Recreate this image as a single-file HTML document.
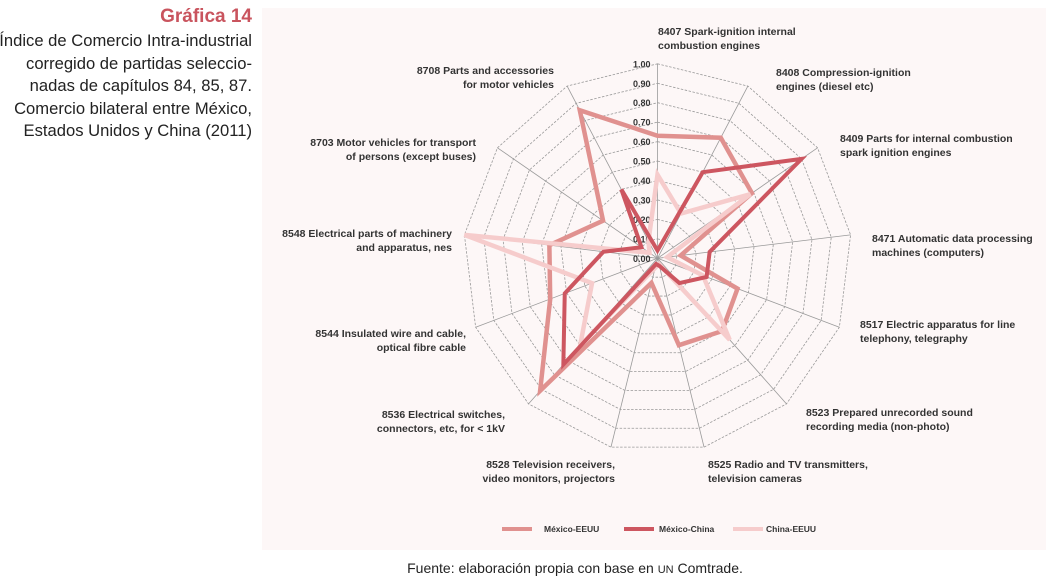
<!DOCTYPE html>
<html><head><meta charset="utf-8">
<style>
body{margin:0;width:1056px;height:580px;background:#fff;overflow:hidden;font-family:"Liberation Sans",sans-serif;position:relative}
#title{position:absolute;right:804px;top:4px;text-align:right;font-size:16.6px;line-height:22.5px;color:#222;white-space:nowrap}
#title b{color:#c9545e;font-size:19px;line-height:26px}
#panel{position:absolute;left:262px;top:8px;width:784px;height:542px;background:#fdf7f7}
#foot{position:absolute;left:0;width:1150px;top:560px;text-align:center;font-size:14px;color:#222}
svg text{font-family:"Liberation Sans",sans-serif;font-weight:bold;fill:#333}
</style></head><body>
<div id="title"><b>Gráfica 14</b><br>Índice de Comercio Intra-industrial<br>corregido de partidas seleccio-<br>nadas de capítulos 84, 85, 87.<br>Comercio bilateral entre México,<br>Estados Unidos y China (2011)</div>
<div id="panel"></div>
<svg id="chart" width="1056" height="580" style="position:absolute;left:0;top:0"></svg>
<div id="foot">Fuente: elaboración propia con base en <span style="font-size:11px">UN</span> Comtrade.</div>
<script>
const categories=["8407","8408","8409","8471","8517","8523","8525","8528","8536","8544","8548","8703","8708"];
const labelLines=[["8407 Spark-ignition internal","combustion engines"],["8408 Compression-ignition","engines (diesel etc)"],["8409 Parts for internal combustion","spark ignition engines"],["8471 Automatic data processing"," machines (computers)"],["8517 Electric apparatus for line","telephony, telegraphy"],["8523 Prepared unrecorded sound","recording media (non-photo)"],["8525 Radio and TV transmitters,"," television cameras"],["8528 Television receivers,","video monitors, projectors"],["8536 Electrical switches,","connectors, etc, for < 1kV"],["8544 Insulated wire and cable,","optical fibre cable"],["8548 Electrical parts of machinery","and apparatus, nes"],["8703 Motor vehicles for transport","of persons (except buses)"],["8708 Parts and accessories","for motor vehicles"]];
const mexEeuu=[0.63,0.70,0.59,0.12,0.44,0.50,0.46,0.13,0.91,0.59,0.56,0.34,0.86];
const mexChina=[0.04,0.50,0.90,0.27,0.27,0.17,0.04,0.03,0.73,0.51,0.28,0.10,0.40];
const chinaEeuu=[0.43,0.26,0.58,0.05,0.25,0.56,0.03,0.05,0.60,0.36,1.00,0.05,0.10];
const ticks=[0,0.1,0.2,0.3,0.4,0.5,0.6,0.7,0.8,0.9,1.0];
const cx=657.5,cy=258.3,R=194.5,N=categories.length;
const svg=document.getElementById('chart');const NS='http://www.w3.org/2000/svg';
function ang(i){return i*2*Math.PI/N;}
function pt(i,v){return [cx+R*v*Math.sin(ang(i)),cy-R*v*Math.cos(ang(i))];}
function mk(t,a){const e=document.createElementNS(NS,t);for(const k in a)e.setAttribute(k,a[k]);svg.appendChild(e);return e;}
ticks.forEach((t,j)=>{if(t===0)return;
 const p=mk('polygon',{points:categories.map((c,i)=>pt(i,t).join(',')).join(' '),fill:'none',stroke:'#999','stroke-width':0.8,'stroke-dasharray':'2.5,1.5'});
 
 });
categories.forEach((c,i)=>{const q=pt(i,1);
 const l=mk('line',{x1:cx,y1:cy,x2:q[0],y2:q[1],stroke:'#9a9a9a','stroke-width':0.8});
 
 });
ticks.forEach(t=>{const tx=mk('text',{x:cx-7,y:cy-R*t+3.5,'font-size':9,'text-anchor':'end'});tx.textContent=t.toFixed(2);
 
 });
function series(vals,col,w,name){const p=mk('polygon',{points:vals.map((v,i)=>pt(i,v).join(',')).join(' '),fill:'none',stroke:col,'stroke-width':w,'stroke-linejoin':'miter'});
 
 }
series(mexEeuu,'#e0918f',4.5,'series-mexico-eeuu');
series(chinaEeuu,'#f6cccc',4.5,'series-china-eeuu');
series(mexChina,'#cd5660',4,'series-mexico-china');
const labelPos=[[658,35,'start'],[776,76,'start'],[840,142,'start'],[872,242,'start'],[860,328,'start'],[806,416,'start'],[708,468,'start'],[615,468,'end'],[505,418,'end'],[466,337,'end'],[452,237,'end'],[476,146,'end'],[554,74,'end']];
labelLines.forEach((ls,i)=>{const [x,y,a]=labelPos[i];ls.forEach((s,k)=>{const t=mk('text',{x:x,y:y+k*14,'font-size':10.5,'text-anchor':a});t.textContent=s;
 
 });});
const leg=[['México-EEUU','#e0918f',502,544],['México-China','#cd5660',624,659],['China-EEUU','#f6cccc',733,766]];
leg.forEach(([n,c,x,tx])=>{const l=mk('line',{x1:x,y1:529,x2:x+30,y2:529,stroke:c,'stroke-width':4});
 
 
 const t=mk('text',{x:tx,y:532,'font-size':8.5});t.textContent=n;
 
 });
</script>
</body></html>
